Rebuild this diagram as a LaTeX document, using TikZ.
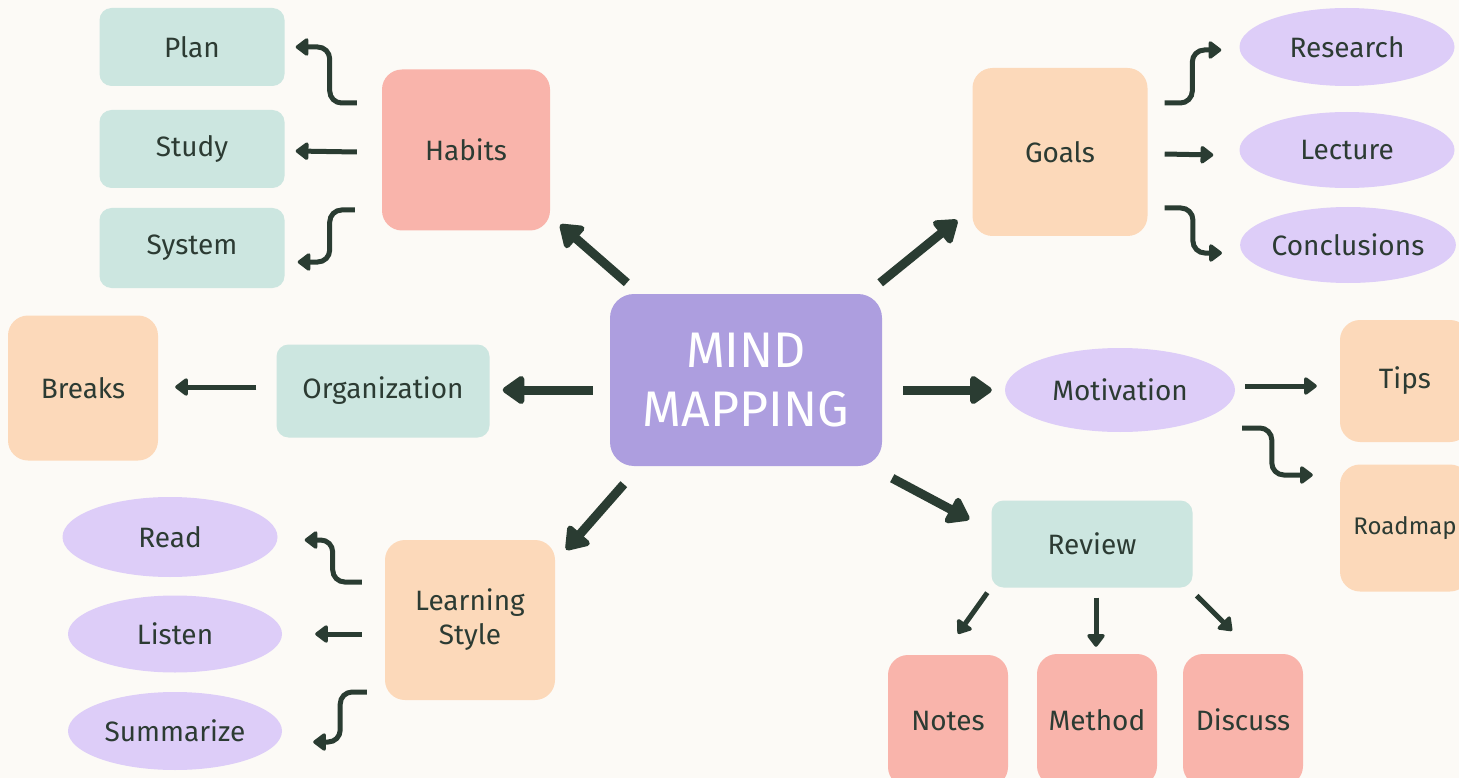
\documentclass[tikz,border=0pt]{standalone}
\usepackage{fontspec}
\setmainfont{Fira Sans}
\usetikzlibrary{shapes.geometric,arrows.meta,calc}
\definecolor{bg}{HTML}{FCFAF6}
\definecolor{tealc}{HTML}{CCE6E0}
\definecolor{salmon}{HTML}{F9B4AB}
\definecolor{peach}{HTML}{FCD9BA}
\definecolor{centerc}{HTML}{AD9EDF}
\definecolor{lav}{HTML}{DDCDF8}
\definecolor{ink}{HTML}{2C3B33}
\definecolor{arrowc}{HTML}{2A3C32}
\tikzset{
  box/.style={rectangle, rounded corners=14pt, inner sep=0pt, text=ink, align=center,
    font=\fontsize{28}{34}\selectfont},
  tealbox/.style={box, fill=tealc, minimum width=185pt, minimum height=78pt, rounded corners=12pt},
  sqbox/.style={box, rounded corners=20pt},
  ellip/.style={ellipse, fill=lav, inner sep=0pt, text=ink, align=center,
    font=\fontsize{28}{34}\selectfont, minimum width=215pt, minimum height=78pt},
  bigarr/.style={draw=arrowc, line width=9pt, -{Triangle[width=32pt,length=24pt,round]}},
  smarr/.style={draw=arrowc, line width=5pt, -{Triangle[width=20pt,length=14pt,round]}, rounded corners=12pt},
}
\begin{document}
\begin{tikzpicture}[x=1pt,y=-1pt]
\useasboundingbox (0,0) rectangle (1459,778);
\clip (0,0) rectangle (1459,778);
\fill[bg] (-5,-5) rectangle (1465,785);

% centre
\node[box, fill=centerc, text=white, minimum width=272pt, minimum height=172pt, rounded corners=24pt,
  font=\fontsize{50}{59}\selectfont] (C) at (746,380) {MIND\\MAPPING};

% Habits branch
\node[sqbox, fill=salmon, minimum width=168pt, minimum height=161pt] (Habits) at (466,150) {Habits};
\node[tealbox] (Plan) at (192,47) {Plan};
\node[tealbox] (Study) at (192,149) {Study};
\node[tealbox, minimum height=80pt] (System) at (192,248) {System};

% Goals branch
\node[sqbox, fill=peach, minimum width=175pt, minimum height=168pt] (Goals) at (1060,152) {Goals};
\node[ellip] (Research) at (1347,47) {Research};
\node[ellip, minimum height=76pt] (Lecture) at (1347,150) {Lecture};
\node[ellip, minimum height=76pt] (Conclusions) at (1348,245) {Conclusions};

% Organization branch
\node[sqbox, fill=peach, minimum width=150pt, minimum height=145pt] (Breaks) at (83,388) {Breaks};
\node[tealbox, minimum width=213pt, minimum height=93pt] (Org) at (383,391) {Organization};

% Motivation branch
\node[ellip, minimum width=230pt, minimum height=84pt] (Motiv) at (1120,390) {Motivation};
\node[sqbox, fill=peach, minimum width=130pt, minimum height=122pt] (Tips) at (1405,381) {Tips};
\node[sqbox, fill=peach, minimum width=130pt, minimum height=127pt,
  font=\fontsize{24}{30}\selectfont] (Roadmap) at (1405,528) {Roadmap};

% Review branch
\node[tealbox, minimum width=201pt, minimum height=87pt] (Review) at (1092,544) {Review};
\node[sqbox, fill=salmon, minimum width=120pt, minimum height=132pt] (Notes) at (948,721) {Notes};
\node[sqbox, fill=salmon, minimum width=120pt, minimum height=132pt] (Method) at (1097,720) {Method};
\node[sqbox, fill=salmon, minimum width=120pt, minimum height=132pt] (Discuss) at (1243,720) {Discuss};

% Learning style branch
\node[sqbox, fill=peach, minimum width=170pt, minimum height=160pt] (LS) at (470,620) {Learning\\Style};
\node[ellip, minimum height=80pt] (Read) at (170,537) {Read};
\node[ellip, minimum width=214pt, minimum height=77pt] (Listen) at (175,634) {Listen};
\node[ellip, minimum width=214pt, minimum height=78pt] (Summ) at (175,731) {Summarize};

% big arrows from centre
\draw[bigarr] ($(C.north west)+(17,-11)$) -- ($(Habits.south east)+(10,-6)$);
\draw[bigarr] ($(C.north east)+(-2,-11)$) -- ($(Goals.south west)+(-15,-16)$);
\draw[bigarr] ($(C.west)+(-17,10)$) -- ($(Org.east)+(13,-1)$);
\draw[bigarr] ($(C.east)+(21,10)$) -- ($(Motiv.west)+(-13,0)$);
\draw[bigarr] ($(C.south west)+(14,18)$) -- ($(LS.north east)+(11,10)$);
\draw[bigarr] ($(C.south east)+(10,12)$) -- ($(Review.north west)+(-22,19)$);

% Habits
\draw[smarr] ($(Habits.west)+(-25,-47)$) -| ($(Plan.east)+(45,0)$) -- ($(Plan.east)+(11,0)$);
\draw[smarr] ($(Habits.west)+(-25,2)$) -- ($(Study.east)+(11,2)$);
\draw[smarr] ($(Habits.west)+(-27,60)$) -| ($(System.east)+(45,14)$) -- ($(System.east)+(13,14)$);

% Goals
\draw[smarr] ($(Goals.east)+(17,-49)$) -| ($(Research.west)+(-47,3)$) -- ($(Research.west)+(-18,3)$);
\draw[smarr] ($(Goals.east)+(17,2)$) -- ($(Lecture.west)+(-26,5)$);
\draw[smarr] ($(Goals.east)+(17,56)$) -| ($(Conclusions.west)+(-47,8)$) -- ($(Conclusions.west)+(-18,8)$);

% Organization
\draw[smarr] ($(Org.west)+(-20,-4)$) -- ($(Breaks.east)+(17,-1)$);

% Motivation
\draw[smarr] ($(Motiv.east)+(10,-4)$) -- ($(Tips.west)+(-23,5)$);
\draw[smarr] ($(Motiv.east)+(7,38)$) -| ($(Roadmap.west)+(-68,-53)$) -- ($(Roadmap.west)+(-27,-53)$);

% Review
\draw[smarr] ($(Review.south west)+(-4,5)$) -- ($(Notes.north)+(10,-21)$);
\draw[smarr] ($(Review.south)+(4,10)$) -- ($(Method.north)+(-1,-7)$);
\draw[smarr] ($(Review.south east)+(4,8)$) -- ($(Discuss.north)+(-11,-23)$);

% Learning style
\draw[smarr] ($(LS.west)+(-23,-38)$) -| ($(Read.east)+(55,3)$) -- ($(Read.east)+(27,3)$);
\draw[smarr] ($(LS.west)+(-23,14)$) -- ($(Listen.east)+(33,0)$);
\draw[smarr] ($(LS.west)+(-18,72)$) -| ($(Summ.east)+(58,11)$) -- ($(Summ.east)+(31,11)$);
\end{tikzpicture}
\end{document}
